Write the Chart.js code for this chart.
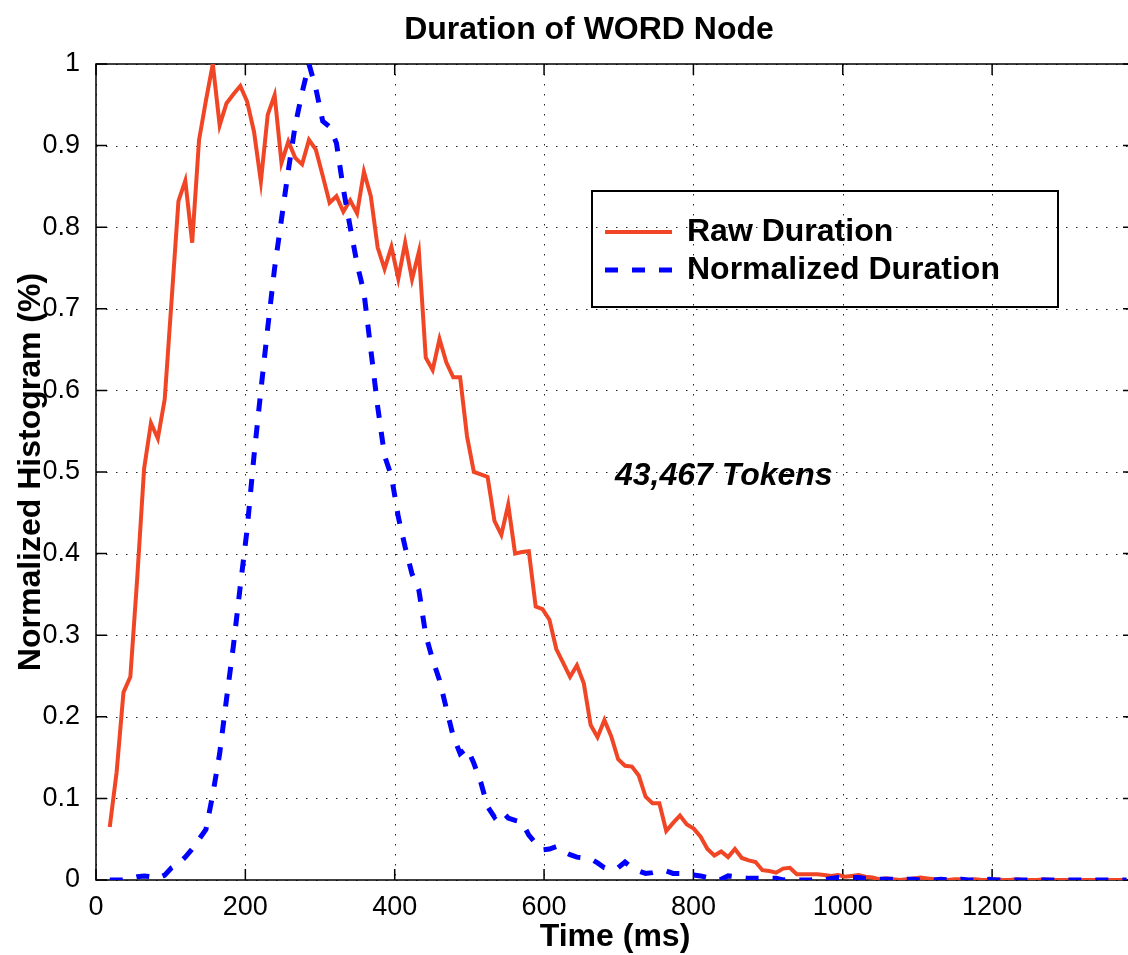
<!DOCTYPE html>
<html>
<head>
<meta charset="utf-8">
<title>Duration of WORD Node</title>
<script src="https://cdn.jsdelivr.net/npm/chart.js@4.4.1/dist/chart.umd.min.js"></script>
<style>
  html, body { margin: 0; padding: 0; background: #fff; overflow: hidden; }
  #wrap { width: 1136px; height: 955px; }
</style>
</head>
<body>
<div id="wrap"><canvas id="duration-chart" width="1136" height="955"></canvas></div>
<script>
// histogram bins: bin k sits at k * binWidth ms, first plotted bin is k = 2
const binWidth = 9.2;
const firstBin = 2;

const rawDuration = [
  0.065, 0.132, 0.230, 0.249, 0.370, 0.504, 0.560, 0.541, 0.589, 0.710,
  0.832, 0.857, 0.781, 0.907, 0.955, 1.000, 0.925, 0.952, 0.963, 0.973,
  0.954, 0.917, 0.856, 0.938, 0.962, 0.879, 0.905, 0.885, 0.877, 0.907,
  0.895, 0.863, 0.830, 0.838, 0.819, 0.833, 0.817, 0.868, 0.838, 0.775,
  0.749, 0.776, 0.737, 0.781, 0.736, 0.770, 0.640, 0.625, 0.663, 0.634,
  0.616, 0.616, 0.544, 0.500, 0.497, 0.494, 0.440, 0.423, 0.460, 0.400,
  0.402, 0.403, 0.335, 0.332, 0.319, 0.283, 0.266, 0.249, 0.263, 0.241,
  0.190, 0.175, 0.196, 0.176, 0.148, 0.140, 0.139, 0.128, 0.102, 0.094,
  0.094, 0.060, 0.070, 0.079, 0.068, 0.063, 0.053, 0.038, 0.030, 0.035,
  0.028, 0.038, 0.027, 0.024, 0.022, 0.012, 0.011, 0.009, 0.014, 0.015,
  0.007, 0.007, 0.007, 0.007, 0.006, 0.005, 0.006, 0.004, 0.005, 0.006,
  0.004, 0.003, 0.001, 0.002, 0.001, 0.000, 0.001, 0.002, 0.003, 0.002,
  0.001, 0.001, 0.000, 0.001, 0.001, 0.000, 0.001, 0.000, 0.000, 0.001,
  0.000, 0.000, 0.001, 0.000, 0.000, 0.000, 0.001, 0.000, 0.000, 0.000,
  0.000, 0.000, 0.000, 0.000, 0.000, 0.000, 0.000, 0.000, 0.000
];

const normalizedDuration = [
  0.000, 0.000, 0.000, 0.002, 0.004, 0.005, 0.004, 0.002, 0.006, 0.015,
  0.020, 0.028, 0.038, 0.050, 0.062, 0.105, 0.155, 0.222, 0.287, 0.360,
  0.430, 0.520, 0.600, 0.677, 0.750, 0.810, 0.870, 0.925, 0.965, 1.000,
  0.970, 0.930, 0.923, 0.903, 0.847, 0.800, 0.755, 0.720, 0.650, 0.580,
  0.520, 0.495, 0.445, 0.408, 0.375, 0.355, 0.300, 0.270, 0.245, 0.210,
  0.176, 0.155, 0.162, 0.143, 0.120, 0.090, 0.077, 0.085, 0.076, 0.073,
  0.071, 0.055, 0.045, 0.037, 0.038, 0.041, 0.035, 0.031, 0.028, 0.027,
  0.026, 0.021, 0.015, 0.013, 0.015, 0.022, 0.015, 0.011, 0.008, 0.009,
  0.011, 0.011, 0.008, 0.008, 0.007, 0.006, 0.005, 0.003, 0.000, 0.001,
  0.005, 0.004, 0.003, 0.002, 0.002, 0.002, 0.002, 0.002, 0.000, 0.001,
  0.000, 0.000, 0.000, 0.001, 0.000, 0.002, 0.003, 0.003, 0.003, 0.003,
  0.002, 0.002, 0.001, 0.001, 0.001, 0.000, 0.001, 0.001, 0.000, 0.001,
  0.000, 0.001, 0.000, 0.000, 0.001, 0.000, 0.000, 0.000, 0.001, 0.000,
  0.000, 0.000, 0.000, 0.000, 0.000, 0.000, 0.000, 0.000, 0.000, 0.000,
  0, 0, 0, 0, 0, 0, 0, 0, 0
];

const xMin = 0;
const xMax = 1390;
const xTicks = [0, 200, 400, 600, 800, 1000, 1200];
const yTicks = [0, 0.1, 0.2, 0.3, 0.4, 0.5, 0.6, 0.7, 0.8, 0.9, 1];
const tokenNote = '43,467 Tokens';
const tokenNoteAt = { x: 695, y: 0.495 };

const FONT = "'Liberation Sans', Arial, Helvetica, sans-serif";
Chart.defaults.font.family = FONT;
Chart.defaults.color = '#000';

function toPoints(values) {
  return values.map((v, i) => ({ x: (i + firstBin) * binWidth, y: v }));
}

// dotted grid, inward tick marks and the box around the axes
const axesBox = {
  id: 'axesBox',
  beforeDatasetsDraw(chart) {
    const { ctx, chartArea: a, scales: { x, y } } = chart;
    ctx.save();
    ctx.strokeStyle = '#222';
    ctx.lineWidth = 1;
    ctx.setLineDash([1.5, 8.5]);
    ctx.beginPath();
    x.ticks.forEach(t => {
      const px = Math.round(x.getPixelForValue(t.value)) + 0.5;
      ctx.moveTo(px, a.top);
      ctx.lineTo(px, a.bottom);
    });
    y.ticks.forEach(t => {
      const py = Math.round(y.getPixelForValue(t.value)) + 0.5;
      ctx.moveTo(a.left, py);
      ctx.lineTo(a.right, py);
    });
    ctx.stroke();

    ctx.setLineDash([]);
    ctx.strokeStyle = '#000';
    ctx.lineWidth = 1.5;
    const len = 11;
    ctx.beginPath();
    x.ticks.forEach(t => {
      const px = x.getPixelForValue(t.value);
      ctx.moveTo(px, a.bottom);
      ctx.lineTo(px, a.bottom - len);
      ctx.moveTo(px, a.top);
      ctx.lineTo(px, a.top + len);
    });
    y.ticks.forEach(t => {
      const py = y.getPixelForValue(t.value);
      ctx.moveTo(a.left, py);
      ctx.lineTo(a.left + len, py);
      ctx.moveTo(a.right, py);
      ctx.lineTo(a.right - len, py);
    });
    ctx.stroke();
    ctx.strokeRect(a.left, a.top, a.right - a.left, a.bottom - a.top);
    ctx.restore();
  }
};

// chart title, legend box and the token count note
const overlay = {
  id: 'overlay',
  afterDraw(chart) {
    const { ctx, scales: { x, y } } = chart;
    ctx.save();
    ctx.fillStyle = '#000';
    ctx.textBaseline = 'middle';

    ctx.font = 'bold 32px ' + FONT;
    ctx.textAlign = 'center';
    ctx.fillText('Duration of WORD Node', 589, 30);

    // legend
    const box = { left: 592, top: 191, width: 466, height: 116 };
    ctx.lineWidth = 2;
    ctx.strokeStyle = '#000';
    ctx.strokeRect(box.left, box.top, box.width, box.height);
    ctx.textAlign = 'left';
    chart.data.datasets.forEach((ds, i) => {
      const cy = 232 + i * 38;
      ctx.save();
      ctx.strokeStyle = ds.borderColor;
      ctx.lineWidth = ds.borderWidth;
      ctx.setLineDash(ds.borderDash || []);
      ctx.beginPath();
      ctx.moveTo(605, cy);
      ctx.lineTo(672, cy);
      ctx.stroke();
      ctx.restore();
      ctx.fillText(ds.label, 687, cy);
    });

    ctx.font = 'italic bold 32px ' + FONT;
    ctx.fillText(tokenNote, x.getPixelForValue(tokenNoteAt.x), y.getPixelForValue(tokenNoteAt.y));
    ctx.restore();
  }
};

const ctx = document.getElementById('duration-chart').getContext('2d');
new Chart(ctx, {
  type: 'line',
  data: {
    datasets: [
      {
        label: 'Raw Duration',
        data: toPoints(rawDuration),
        borderColor: '#f14626',
        borderWidth: 4,
        pointRadius: 0,
        tension: 0,
        order: 2
      },
      {
        label: 'Normalized Duration',
        data: toPoints(normalizedDuration),
        borderColor: '#0000ff',
        borderWidth: 5,
        borderDash: [13, 14],
        pointRadius: 0,
        tension: 0,
        order: 1
      }
    ]
  },
  options: {
    responsive: false,
    animation: false,
    layout: { padding: { top: 64, right: 2, left: 0, bottom: 0 } },
    plugins: {
      legend: { display: false },
      title: { display: false },
      tooltip: { enabled: false }
    },
    scales: {
      x: {
        type: 'linear',
        min: xMin,
        max: xMax,
        afterFit: scale => { scale.height = 75; },
        afterBuildTicks: scale => { scale.ticks = xTicks.map(v => ({ value: v })); },
        grid: { display: false },
        border: { display: false },
        ticks: {
          autoSkip: false,
          maxRotation: 0,
          padding: 3,
          font: { size: 27 },
          color: '#000',
          callback: v => String(v)
        },
        title: {
          display: true,
          text: 'Time (ms)',
          font: { size: 32, weight: 'bold', lineHeight: 1.1 },
          padding: { top: 0, bottom: 0 },
          color: '#000'
        }
      },
      y: {
        min: 0,
        max: 1,
        afterFit: scale => { scale.width = 96; },
        afterBuildTicks: scale => { scale.ticks = yTicks.map(v => ({ value: v })); },
        grid: { display: false },
        border: { display: false },
        ticks: {
          autoSkip: false,
          padding: 8,
          font: { size: 27 },
          color: '#000',
          callback: v => String(v)
        },
        title: {
          display: true,
          text: 'Normalized Histogram (%)',
          font: { size: 32, weight: 'bold', lineHeight: 1.2 },
          padding: { top: 12, bottom: 0 },
          color: '#000'
        }
      }
    }
  },
  plugins: [axesBox, overlay]
});
</script>
</body>
</html>
